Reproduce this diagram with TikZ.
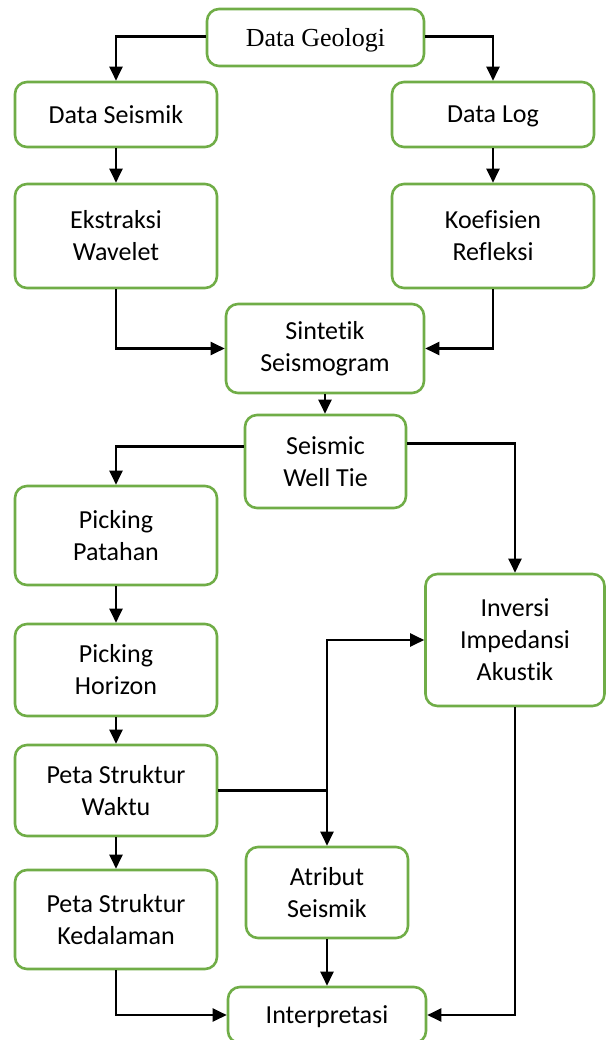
\documentclass[tikz,border=0pt]{standalone}
\usepackage{fontspec}
\setmainfont{Carlito}[Ligatures={NoCommon,NoContextual}]
\newfontfamily\geofont{Liberation Serif}
\usetikzlibrary{arrows.meta}
\definecolor{boxgreen}{RGB}{112,173,71}
\begin{document}
\begin{tikzpicture}[x=1pt,y=-1pt,
  box/.style={draw=boxgreen, line width=2.6pt, rounded corners=12pt, align=center,
    inner sep=0pt, fill=white, font=\fontsize{26}{32}\selectfont},
  arr/.style={draw=black, line width=2.2pt, -{Triangle[width=13pt,length=14pt]}},
  ln/.style={draw=black, line width=2.2pt}]
\useasboundingbox (0,0) rectangle (605,1040);
\node[box, minimum width=217pt, minimum height=57pt, text depth=0pt, font=\geofont\fontsize{26}{32}\selectfont] (geo) at (315.5,37.5) {Data Geologi};
\node[box, minimum width=202pt, minimum height=65pt] (seis) at (116,114.5) {Data Seismik};
\node[box, minimum width=202pt, minimum height=65pt, text depth=0pt] (log) at (493,114.5) {Data Log};
\node[box, minimum width=202pt, minimum height=104pt] (eks) at (116,236) {Ekstraksi\\Wavelet};
\node[box, minimum width=202pt, minimum height=104pt] (koef) at (493,236) {Koefisien\\Refleksi};
\node[box, minimum width=198pt, minimum height=89pt] (sint) at (325,348.5) {Sintetik\\Seismogram};
\node[box, minimum width=161pt, minimum height=93pt] (swt) at (325.5,461.5) {Seismic\\Well Tie};
\node[box, minimum width=202pt, minimum height=99pt] (patah) at (116,535.5) {Picking\\Patahan};
\node[box, minimum width=179pt, minimum height=132pt] (inv) at (515,640) {Inversi\\Impedansi\\Akustik};
\node[box, minimum width=202pt, minimum height=92pt] (horiz) at (116,670) {Picking\\Horizon};
\node[box, minimum width=202pt, minimum height=91pt] (psw) at (116,790.5) {Peta Struktur\\Waktu};
\node[box, minimum width=162pt, minimum height=91pt] (atr) at (327,892.5) {Atribut\\Seismik};
\node[box, minimum width=202pt, minimum height=99pt] (psk) at (116,919.5) {Peta Struktur\\Kedalaman};
\node[box, minimum width=198pt, minimum height=56pt, text depth=0pt] (interp) at (327,1015) {Interpretasi};
\coordinate (j) at (atr.north |- psw.east);
\draw[arr] ([yshift=1pt]geo.west) -| (seis.north);
\draw[arr] ([yshift=1pt]geo.east) -| (log.north);
\draw[arr] (seis.south) -- (eks.north);
\draw[arr] (log.south) -- (koef.north);
\draw[arr] (eks.south) |- (sint.west);
\draw[arr] (koef.south) |- (sint.east);
\draw[arr] (sint.south) -- (sint.south |- swt.north);
\draw[arr] ([yshift=15pt]swt.west) -| (patah.north);
\draw[arr] ([yshift=18pt]swt.east) -| (inv.north);
\draw[arr] (patah.south) -- (horiz.north);
\draw[arr] (horiz.south) -- (psw.north);
\draw[arr] (psw.south) -- (psk.north);
\draw[ln] (psw.east) -- (j);
\draw[arr] (j) -- (atr.north);
\draw[arr] (j) |- (inv.west);
\draw[arr] (atr.south) -- (interp.north);
\draw[arr] (psk.south) |- (interp.west);
\draw[arr] (inv.south) |- (interp.east);
\end{tikzpicture}
\end{document}
